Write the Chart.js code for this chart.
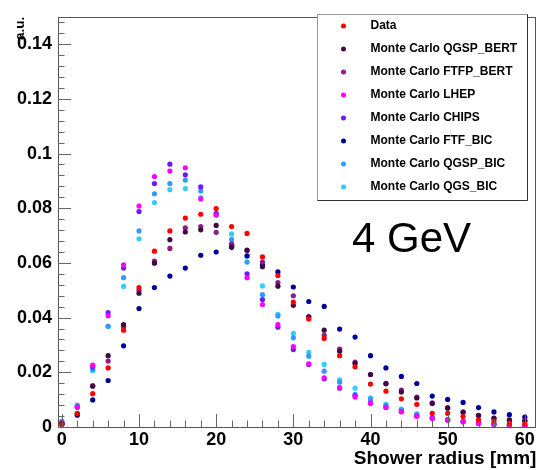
<!DOCTYPE html>
<html><head><meta charset="utf-8">
<script src="https://cdn.jsdelivr.net/npm/chart.js@4.4.0/dist/chart.umd.min.js"></script>
<style>html,body{margin:0;padding:0;background:#fff;overflow:hidden}</style>
</head><body>
<canvas id="c" width="539" height="470"></canvas>
<script>
const radius = [0,2,4,6,8,10,12,14,16,18,20,22,24,26,28,30,32,34,36,38,40,42,44,46,48,50,52,54,56,58,60];
const xTickValues = [0,10,20,30,40,50,60];
const yTickValues = [0,0.02,0.04,0.06,0.08,0.1,0.12,0.14];

const dataSeries = [0.001,0.005,0.0122,0.0216,0.0354,0.051,0.0643,0.0717,0.0764,0.0778,0.0799,0.0733,0.0708,0.0622,0.0554,0.0457,0.0395,0.0324,0.0261,0.022,0.0157,0.0131,0.0103,0.0083,0.005,0.005,0.0038,0.0026,0.0021,0.0012,0.0011];
const qgspBert = [0.0012,0.0047,0.0149,0.0261,0.0374,0.0489,0.0599,0.0685,0.0713,0.0721,0.0737,0.066,0.0647,0.0586,0.0515,0.0445,0.0402,0.0354,0.0277,0.0232,0.0192,0.0158,0.0128,0.0106,0.0086,0.0069,0.0054,0.0042,0.0032,0.0025,0.0022];
const ftfpBert = [0.0012,0.0048,0.0151,0.0241,0.0365,0.05,0.0607,0.0653,0.0728,0.0733,0.0712,0.0665,0.0645,0.0603,0.0528,0.048,0.0404,0.0335,0.0285,0.0237,0.0192,0.016,0.0135,0.0109,0.0088,0.0071,0.0055,0.0043,0.0033,0.0026,0.0024];
const lhep = [0.0015,0.0073,0.0226,0.0407,0.0593,0.0808,0.0916,0.0936,0.0948,0.0834,0.0775,0.0665,0.0546,0.0448,0.0374,0.0294,0.0231,0.018,0.0144,0.011,0.0088,0.0072,0.0056,0.0039,0.0031,0.0025,0.0019,0.0013,0.0009,0.0005,0.0004];
const chips = [0.0015,0.0072,0.022,0.0418,0.0581,0.0788,0.089,0.0961,0.0922,0.0878,0.078,0.067,0.056,0.0466,0.0365,0.0283,0.0229,0.0176,0.0142,0.0114,0.0087,0.0071,0.0056,0.004,0.0032,0.0026,0.0019,0.0013,0.0009,0.0005,0.0004];
const ftfBic = [0.001,0.0043,0.0099,0.017,0.0297,0.0433,0.051,0.0552,0.0581,0.0628,0.064,0.0657,0.0626,0.0593,0.0567,0.0512,0.0459,0.0441,0.0358,0.0329,0.0261,0.0216,0.0185,0.0159,0.0113,0.0101,0.009,0.0071,0.0055,0.0045,0.0036];
const qgspBic = [0.0022,0.0078,0.021,0.0368,0.0546,0.0717,0.0853,0.089,0.0903,0.0863,0.078,0.0686,0.0603,0.0484,0.0406,0.0326,0.0259,0.0204,0.0164,0.0119,0.0101,0.0079,0.0063,0.0046,0.0034,0.0027,0.0021,0.0014,0.001,0.0006,0.0004];
const qgsBic = [0.002,0.008,0.0207,0.0368,0.0514,0.0688,0.0821,0.0868,0.0872,0.0839,0.0775,0.0706,0.0624,0.0516,0.0412,0.0342,0.0273,0.0229,0.0172,0.0142,0.0107,0.0083,0.0065,0.0048,0.0035,0.0028,0.0022,0.0015,0.001,0.0006,0.0005];

const seriesNames = ["Data","Monte Carlo QGSP_BERT","Monte Carlo FTFP_BERT","Monte Carlo LHEP","Monte Carlo CHIPS","Monte Carlo FTF_BIC","Monte Carlo QGSP_BIC","Monte Carlo QGS_BIC"];
const seriesValues = [dataSeries,qgspBert,ftfpBert,lhep,chips,ftfBic,qgspBic,qgsBic];
const seriesColors = ["#ff0000","#3f0a3f","#8e1a8e","#ff00ff","#6a1cf5","#000099","#3399ff","#33ccff"];
const energyLabel = "4 GeV";

const FONT = "'Liberation Sans', Arial, sans-serif";

const decor = {
  id: 'decor',
  afterDraw(chart) {
    const ctx = chart.ctx;
    const a = chart.chartArea;
    const xs = chart.scales.x, ys = chart.scales.y;
    ctx.save();
    // frame
    ctx.strokeStyle = '#555';
    ctx.lineWidth = 1;
    ctx.strokeRect(Math.round(a.left)+0.5, Math.round(a.top)+0.5, Math.round(a.right-a.left)-1, Math.round(a.bottom-a.top));
    // y ticks (inside)
    ctx.strokeStyle = '#666';
    for (let v = 0; v <= 0.1481; v += 0.004) {
      const py = Math.round(ys.getPixelForValue(v)) + 0.5;
      const major = Math.abs(v/0.02 - Math.round(v/0.02)) < 1e-6;
      ctx.beginPath(); ctx.moveTo(a.left, py); ctx.lineTo(a.left + (major ? 13 : 6.5), py); ctx.stroke();
    }
    // x ticks (inside)
    for (let v = 0; v <= 60.01; v += 2) {
      const px = Math.round(xs.getPixelForValue(v)) + 0.5;
      const major = v % 10 === 0;
      ctx.beginPath(); ctx.moveTo(px, a.bottom); ctx.lineTo(px, a.bottom - (major ? 13 : 6.5)); ctx.stroke();
    }
    // legend box
    ctx.fillStyle = '#fff';
    ctx.fillRect(317, 14, 210, 186);
    ctx.strokeStyle = '#999';
    ctx.strokeRect(317.5, 14.5, 210, 186);
    ctx.strokeStyle = '#333';
    ctx.beginPath(); ctx.moveTo(317.5, 200.5); ctx.lineTo(527.5, 200.5); ctx.lineTo(527.5, 14.5); ctx.stroke();
    ctx.font = "bold 12px " + FONT;
    ctx.textBaseline = 'middle';
    ctx.textAlign = 'left';
    seriesNames.forEach((n, i) => {
      const y = 26 + i * 23;
      ctx.fillStyle = seriesColors[i];
      ctx.beginPath(); ctx.arc(343.5, y, 2.5, 0, Math.PI*2); ctx.fill();
      ctx.fillStyle = '#000';
      ctx.fillText(n, 370.5, y);
    });
    // energy label
    ctx.font = "42px " + FONT;
    ctx.textBaseline = 'alphabetic';
    ctx.fillStyle = '#000';
    ctx.fillText(energyLabel, 352, 252);
    ctx.restore();
  }
};

new Chart(document.getElementById('c'), {
  type: 'scatter',
  data: {
    datasets: seriesNames.map((n, i) => ({
      label: n,
      data: radius.map((r, j) => ({x: r, y: seriesValues[i][j]})),
      backgroundColor: seriesColors[i],
      borderColor: seriesColors[i],
      borderWidth: 0,
      pointRadius: 2.6,
      pointHoverRadius: 2.6
    }))
  },
  options: {
    responsive: false,
    animation: false,
    devicePixelRatio: 1,
    layout: {padding: {top: 7, right: 2, left: 0, bottom: 0}},
    plugins: {legend: {display: false}, tooltip: {enabled: false}},
    scales: {
      x: {
        type: 'linear', min: -0.5, max: 61.5,
        afterBuildTicks: s => { s.ticks = xTickValues.map(v => ({value: v})); },
        afterFit: s => { s.height = 43; },
        grid: {display: false, drawTicks: false},
        border: {display: false},
        ticks: {font: {family: FONT, weight: 'bold', size: 18}, color: '#000', padding: 2, maxRotation: 0, autoSkip: false},
        title: {display: true, text: 'Shower radius [mm]', align: 'end', color: '#000', font: {family: FONT, weight: 'bold', size: 19}, padding: {top: 0, bottom: 0}}
      },
      y: {
        type: 'linear', min: 0, max: 0.15,
        afterBuildTicks: s => { s.ticks = yTickValues.map(v => ({value: v})); },
        afterFit: s => { s.width = 58; },
        grid: {display: false, drawTicks: false},
        border: {display: false},
        ticks: {font: {family: FONT, weight: 'bold', size: 18}, color: '#000', padding: 6,
          callback: v => v === 0 ? '0' : String(+v.toFixed(2))},
        title: {display: true, text: 'a.u.', align: 'end', color: '#000', font: {family: FONT, weight: 'bold', size: 13.5}, padding: {top: 12, bottom: 0}}
      }
    }
  },
  plugins: [decor]
});
</script>
</body></html>
